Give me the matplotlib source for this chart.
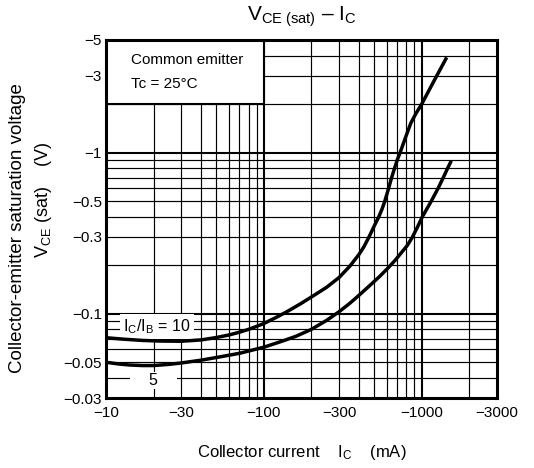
import matplotlib
matplotlib.use("Agg")
import matplotlib.pyplot as plt
from matplotlib.patches import Rectangle
from matplotlib.ticker import FixedLocator, NullLocator

plt.rcParams['font.family'] = ['Liberation Sans', 'DejaVu Sans']
plt.rcParams['mathtext.fontset'] = 'custom'
plt.rcParams['mathtext.rm'] = 'Liberation Sans'
plt.rcParams['mathtext.it'] = 'Liberation Sans'
plt.rcParams['mathtext.bf'] = 'Liberation Sans'

# ---- data (|IC| in mA, |VCE(sat)| in V) ----
ic_ratio10 = [10, 13, 17, 22, 30, 40, 50, 60, 70, 80, 90, 100, 120, 140, 170, 200, 250, 300, 350, 400,
              430, 464, 500, 535, 560, 584, 617, 645, 673, 700, 730, 780, 815, 852, 920, 1000, 1200, 1440]
vce_ratio10 = [0.071, 0.0695, 0.0683, 0.0677, 0.0675, 0.0688, 0.0712, 0.0738, 0.0768, 0.080, 0.0835, 0.087,
               0.095, 0.103, 0.115, 0.127, 0.146, 0.168, 0.197, 0.233, 0.26, 0.30, 0.35, 0.40, 0.445, 0.50,
               0.60, 0.70, 0.80, 0.90, 1.0, 1.2, 1.35, 1.52, 1.75, 2.0, 2.8, 3.9]

ic_ratio5 = [10, 12, 14, 17, 20, 25, 30, 40, 50, 70, 100, 130, 160, 200, 250, 300, 350, 400, 470, 540,
             611, 680, 740, 810, 875, 940, 1010, 1150, 1270, 1370, 1460, 1540]
vce_ratio5 = [0.050, 0.0488, 0.0481, 0.0477, 0.0477, 0.0485, 0.0495, 0.0515, 0.0535, 0.0568, 0.062, 0.0675,
              0.0725, 0.080, 0.091, 0.103, 0.116, 0.130, 0.150, 0.170, 0.192, 0.215, 0.238, 0.265, 0.30,
              0.345, 0.40, 0.50, 0.60, 0.70, 0.80, 0.89]

x_ticks = [10, 30, 100, 300, 1000, 3000]
x_tick_labels = ["\u221210", "\u221230", "\u2212100", "\u2212300", "\u22121000", "\u22123000"]
y_ticks = [0.03, 0.05, 0.1, 0.3, 0.5, 1, 3, 5]
y_tick_labels = ["\u22120.03", "\u22120.05", "\u22120.1", "\u22120.3", "\u22120.5", "\u22121", "\u22123", "\u22125"]

x_grid_minor = [20, 30, 40, 50, 60, 70, 80, 90, 200, 300, 400, 500, 600, 700, 800, 900, 2000]
x_grid_major = [100, 1000]
y_grid_minor = [0.04, 0.05, 0.06, 0.07, 0.08, 0.09, 0.2, 0.3, 0.4, 0.5, 0.6, 0.7, 0.8, 0.9, 2, 3, 4]
y_grid_major = [0.1, 1]

fig = plt.figure(figsize=(5.34, 4.68), dpi=100)
ax = fig.add_axes([106/534, 1 - 398/468, (497 - 106)/534, (398 - 40)/468])
ax.set_xscale('log')
ax.set_yscale('log')
ax.set_xlim(10, 3000)
ax.set_ylim(0.03, 5)

for gx in x_grid_minor:
    ax.axvline(gx, color='black', lw=0.85, zorder=1)
for gx in x_grid_major:
    ax.axvline(gx, color='black', lw=1.5, zorder=1)
for gy in y_grid_minor:
    ax.axhline(gy, color='black', lw=0.85, zorder=1)
for gy in y_grid_major:
    ax.axhline(gy, color='black', lw=1.5, zorder=1)

# condition box
ax.add_patch(Rectangle((10, 2), 90, 3, facecolor='white', edgecolor='black', lw=1.5, zorder=3))
ax.text(0.064, 0.944, "Common emitter", transform=ax.transAxes, fontsize=11,
        ha='left', va='center', zorder=4)
ax.text(0.064, 0.878, "Tc = 25\u00b0C", transform=ax.transAxes, fontsize=11,
        ha='left', va='center', zorder=4)

ax.plot(ic_ratio10, vce_ratio10, color='black', lw=2.5, zorder=5, solid_capstyle='butt')
ax.plot(ic_ratio5, vce_ratio5, color='black', lw=2.5, zorder=5, solid_capstyle='butt')

ax.text(21, 0.0835, r"I$_{\mathrm{C}}$/I$_{\mathrm{B}}$ = 10", fontsize=11.5, ha='center', va='center',
        zorder=4, bbox=dict(facecolor='white', edgecolor='none', boxstyle='square,pad=0.2'))
ax.text(20, 0.0386, "    5    ", fontsize=11.5, ha='center', va='center',
        zorder=4, bbox=dict(facecolor='white', edgecolor='none', boxstyle='square,pad=0.05'))

ax.xaxis.set_major_locator(FixedLocator(x_ticks))
ax.xaxis.set_minor_locator(NullLocator())
ax.set_xticklabels(x_tick_labels)
ax.yaxis.set_major_locator(FixedLocator(y_ticks))
ax.yaxis.set_minor_locator(NullLocator())
ax.set_yticklabels(y_tick_labels)
ax.tick_params(axis='both', length=0, labelsize=11)
ax.tick_params(axis='x', pad=6)
ax.tick_params(axis='y', pad=3)
for s in ax.spines.values():
    s.set_linewidth(2.2)
    s.set_zorder(6)

fig.text(302/534, 1 - 17/468, "V$_{\\mathrm{CE\\ (sat)}}$ \u2013 I$_{\\mathrm{C}}$",
         fontsize=15, ha='center', va='center')
fig.text(302/534, 1 - 453/468, r"Collector current    I$_{\mathrm{C}}$    (mA)", fontsize=12,
         ha='center', va='center')
fig.text(18/534, 1 - 228/468, "Collector-emitter saturation voltage", fontsize=13.5,
         ha='center', va='center', rotation=90)
fig.text(43/534, 1 - 200/468, r"V$_{\mathrm{CE}}$ (sat)    (V)", fontsize=13,
         ha='center', va='center', rotation=90)

fig.savefig("out.png", dpi=100)
